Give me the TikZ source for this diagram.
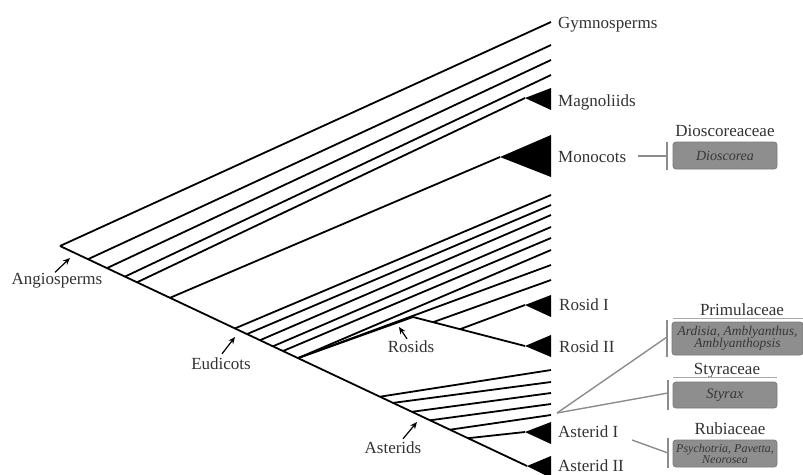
\documentclass[tikz,border=0pt]{standalone}
\usepackage{fontspec}
\setmainfont{Liberation Serif}
\usetikzlibrary{arrows.meta,calc}
\definecolor{labelgray}{RGB}{50,50,50}
\definecolor{boxfill}{RGB}{142,142,142}
\definecolor{boxedge}{RGB}{122,122,122}
\definecolor{linkgray}{RGB}{140,140,140}
\definecolor{rulegray}{RGB}{170,170,170}
\definecolor{boxtext}{RGB}{55,55,55}
\begin{document}
\begin{tikzpicture}[x=1pt,y=-1pt,
  branch/.style={line width=1.8pt},
  cladefill/.style={fill=black},
  taxon/.style={anchor=base west, inner sep=0pt, text=labelgray, font=\fontsize{17}{19}\selectfont},
  grouplab/.style={inner sep=0pt, text=labelgray, font=\fontsize{17}{19}\selectfont},
  pointer/.style={line width=1.2pt, -{Stealth[length=7pt,width=6pt]}},
  link/.style={draw=linkgray, line width=1.4pt},
  famlab/.style={anchor=base, inner sep=0pt, text=labelgray, font=\fontsize{17}{19}\selectfont},
  fambox/.style={fill=boxfill, draw=boxedge, line width=0.8pt, rounded corners=3pt, text=boxtext, align=center, inner sep=0pt},
  famrule/.style={draw=rulegray, line width=0.8pt}
]
\useasboundingbox (0,0) rectangle (803,474);
\clip (0,0) rectangle (803,474);

% ---- backbone nodes (root to the Asterid II clade)
\coordinate (root) at (60,246);
\coordinate (b1) at (88,259.2);
\coordinate (b2) at (107,268.1);
\coordinate (b3) at (125,276.6);
\coordinate (b4) at (137,282.3);
\coordinate (b5) at (170,297.8);
\coordinate (e0) at (235,328.4);
\coordinate (e1) at (247,334.1);
\coordinate (e2) at (260,340.2);
\coordinate (e3) at (273,346.3);
\coordinate (e4) at (283,351.0);
\coordinate (e5) at (298,358.1);
\coordinate (s0) at (380,396.7);
\coordinate (s1) at (393,402.9);
\coordinate (s2) at (412,411.8);
\coordinate (s3) at (430,420.3);
\coordinate (s4) at (450,429.7);
\coordinate (s5) at (468,438.2);
\coordinate (ast2) at (527,466);

% ---- rosid sub-backbone
\coordinate (rn) at (413,317);
\coordinate (r1) at (433,322.2);
\coordinate (r2) at (460,329.2);
\coordinate (ros2) at (525,346);

% ---- tips
\coordinate (gym) at (551,22);
\coordinate (t1) at (551,45);
\coordinate (t2) at (551,60);
\coordinate (t3) at (551,75);
\coordinate (mag) at (525,98);
\coordinate (mono) at (500,157);
\coordinate (u1) at (551,195);
\coordinate (u2) at (551,205);
\coordinate (u3) at (551,215);
\coordinate (u4) at (551,227);
\coordinate (u5) at (551,238);
\coordinate (u6) at (551,250);
\coordinate (u7) at (551,265);
\coordinate (u8) at (551,280);
\coordinate (ros1) at (525,305);
\coordinate (v1) at (551,370);
\coordinate (v2) at (551,382);
\coordinate (v3) at (551,393);
\coordinate (v4) at (551,404);
\coordinate (v5) at (551,415);
\coordinate (ast1) at (525,432);

% ---- collapsed clades
\fill[cladefill] (mag) -- (551,88) -- (551,110) -- cycle;
\fill[cladefill] (mono) -- (551,135) -- (551,177) -- cycle;
\fill[cladefill] (ros1) -- (551,295) -- (551,317) -- cycle;
\fill[cladefill] (ros2) -- (551,335) -- (551,357) -- cycle;
\fill[cladefill] (ast1) -- (551,422) -- (551,444) -- cycle;
\fill[cladefill] (ast2) -- (551,456) -- (551,478) -- cycle;

% ---- branches
\draw[branch] (root) -- (gym);
\draw[branch] (root) -- (ast2);
\draw[branch] (b1) -- (t1);
\draw[branch] (b2) -- (t2);
\draw[branch] (b3) -- (t3);
\draw[branch] (b4) -- (mag);
\draw[branch] (b5) -- (mono);
\draw[branch] (e0) -- (u1);
\draw[branch] (e1) -- (u2);
\draw[branch] (e2) -- (u3);
\draw[branch] (e3) -- (u4);
\draw[branch] (e4) -- (u5);
\draw[branch] (e5) -- (u6);
\draw[branch] (e5) -- (rn);
\draw[branch] (e5) -- (u7);
\draw[branch] (rn) -- (ros2);
\draw[branch] (r1) -- (u8);
\draw[branch] (r2) -- (ros1);
\draw[branch] (s0) -- (v1);
\draw[branch] (s1) -- (v2);
\draw[branch] (s2) -- (v3);
\draw[branch] (s3) -- (v4);
\draw[branch] (s4) -- (v5);
\draw[branch] (s5) -- (ast1);

% ---- tip labels
\node[taxon] (lgym) at (558,28) {Gymnosperms};
\node[taxon] (lmag) at (558,106) {Magnoliids};
\node[taxon] (lmono) at (558,162) {Monocots};
\node[taxon] (lros1) at (559,310) {Rosid I};
\node[taxon] (lros2) at (559,352) {Rosid II};
\node[taxon] (last1) at (558,437) {Asterid I};
\node[taxon] (last2) at (558,471) {Asterid II};

% ---- group labels with pointers
\node[grouplab] (langio) at (57,281) {Angiosperms};
\node[grouplab] (leud) at (221,364) {Eudicots};
\node[grouplab] (lrosids) at (411,347) {Rosids};
\node[grouplab] (lasterids) at (393,448) {Asterids};
\coordinate (pangio) at (70,258);
\coordinate (peud) at (235,337);
\coordinate (prosids) at (399,327);
\coordinate (pasterids) at (417,422);
\draw[pointer] ($(langio.north)+(-2,-1)$) -- (pangio);
\draw[pointer] ($(leud.north)+(1,-4)$) -- (peud);
\draw[pointer] ($(lrosids.north)+(-4,-2)$) -- (prosids);
\draw[pointer] ($(lasterids.north)+(10,-3)$) -- (pasterids);

% ---- family boxes
\node[fambox, minimum width=104pt, minimum height=27pt, font=\fontsize{14}{12}\selectfont\itshape] (bdio) at (725,155.5) {Dioscorea};
\node[famlab] (fdio) at (725,136) {Dioscoreaceae};
\draw[link] (667,142) -- (667,170);
\coordinate (mlink) at (638,156);
\draw[link] (mlink) -- (667,156);

\node[fambox, minimum width=131pt, minimum height=33pt, font=\fontsize{13.5}{12.5}\selectfont\itshape] (bprim) at (737.5,338.5) {Ardisia, Amblyanthus,\\Amblyanthopsis};
\node[famlab] (fprim) at (742,315) {Primulaceae};
\draw[famrule] (673,318.5) -- (803,318.5);
\draw[link] (667,320) -- (667,357);

\node[fambox, minimum width=104pt, minimum height=26pt, font=\fontsize{14.5}{12}\selectfont\itshape] (bsty) at (725,395) {Styrax};
\node[famlab] (fsty) at (727,374) {Styraceae};
\draw[famrule] (673,377.5) -- (777,377.5);
\draw[link] (668,380) -- (668,410);

\node[fambox, minimum width=104pt, minimum height=27pt, font=\fontsize{12}{11}\selectfont\itshape] (brub) at (725,453.5) {Psychotria, Pavetta,\\Neorosea};
\node[famlab] (frub) at (730,434) {Rubiaceae};
\draw[link] (668,438) -- (668,468);

% ---- connectors from the tree to the boxes
\coordinate (eric) at (557,413);
\draw[link] (eric) -- (667,337);
\draw[link] (eric) -- (668,393);
\coordinate (alink) at (632,440);
\draw[link] (alink) -- (668,453);
\end{tikzpicture}
\end{document}
